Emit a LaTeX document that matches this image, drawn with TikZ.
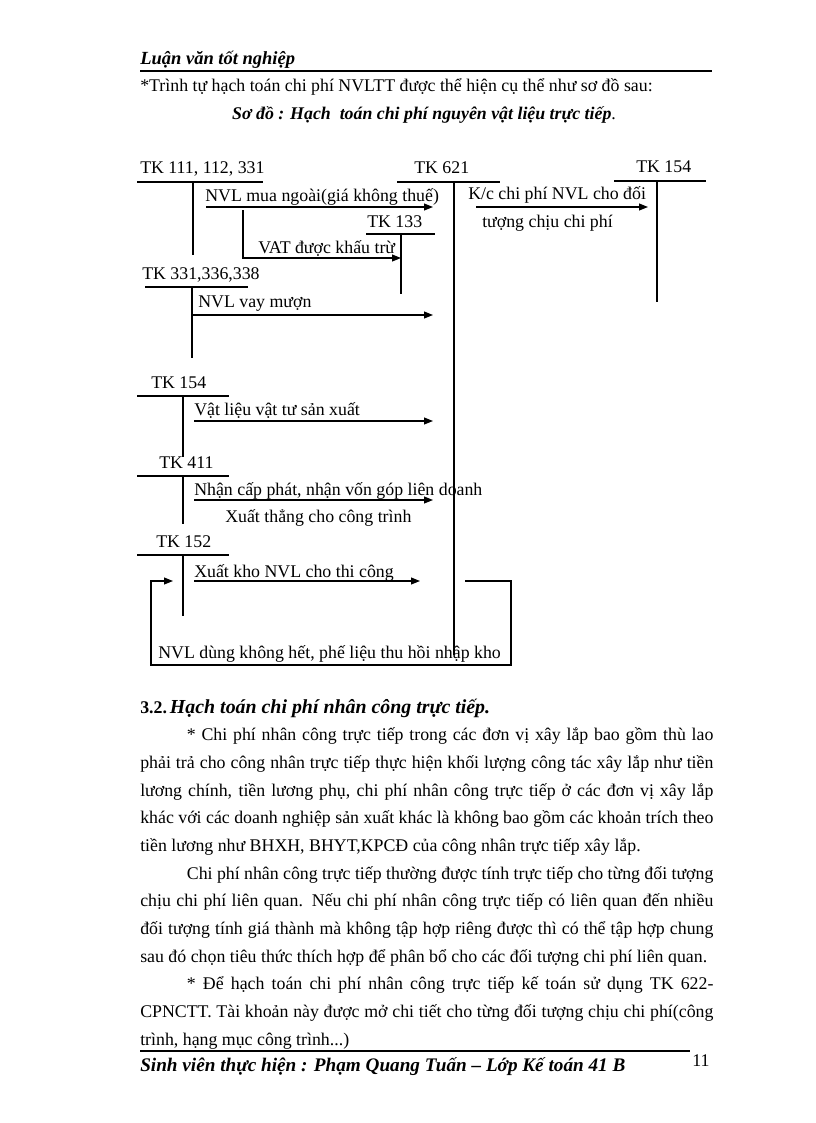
\documentclass[tikz,border=0pt]{standalone}
\usepackage{fontspec}
\setmainfont{Liberation Serif}
\usetikzlibrary{arrows.meta,positioning,calc}

\tikzset{
    lbl/.style={anchor=base west, inner sep=0pt, font=\fontsize{13}{15}\selectfont},
    acct/.style={line width=1pt},
    stem/.style={line width=0.9pt},
    flow/.style={line width=0.9pt, -{Triangle[length=6.5pt,width=5pt]}},
    para/.style={anchor=north west, inner sep=0pt, text width=418pt, align=justify,
        font=\fontsize{13}{20.2}\selectfont},
}

\begin{document}
\begin{tikzpicture}[x=0.7293pt, y=-0.7293pt]
    \useasboundingbox (0,0) rectangle (816,1123);

    % Page header
    \node[lbl, font=\fontsize{13.5}{15}\selectfont\bfseries\itshape] (head) at (140,64) {Luận văn tốt nghiệp};
    \draw[line width=0.9pt] (140,71) -- (712,71);
    \node[lbl] (intro) at (140,91) {*Trình tự hạch toán chi phí NVLTT được thể hiện cụ thể như sơ đồ sau:};
    \node[anchor=base, inner sep=0pt, font=\fontsize{13}{15}\selectfont] (title) at (424,119)
        {\textbf{\textit{Sơ đồ : Hạch \ toán chi phí nguyên vật liệu trực tiếp}}.};

    % TK 111, 112, 331
    \node[lbl] (tk111) at (140,173) {TK 111, 112, 331};
    \draw[acct] (137,182) -- (263,182);
    \draw[stem] (193,182) -- (193,255);

    % TK 621
    \node[lbl] (tk621) at (414,173) {TK 621};
    \draw[acct] (397,182) -- (500,182);
    \draw[stem] (454,182) -- (454,655);

    % TK 154 (right)
    \node[lbl] (tk154r) at (636,172) {TK 154};
    \draw[acct] (614,181) -- (706,181);
    \draw[stem] (657,181) -- (657,302);

    % TK 133
    \node[lbl] (tk133) at (367,227) {TK 133};
    \draw[acct] (366,234) -- (435,234);
    \draw[stem] (401,234) -- (401,294);

    % TK 331,336,338
    \node[lbl] (tk331) at (142,279) {TK 331,336,338};
    \draw[acct] (145,287) -- (248,287);
    \draw[stem] (192,287) -- (192,358);

    % TK 154, 411, 152 (left)
    \foreach \ty/\tb/\tx/\tn in {396/457/151/154, 476/524/159/411, 555/616/156/152} {
        \node[lbl] (tk\tn) at (\tx,\ty-8) {TK \tn};
        \draw[acct] (137,\ty) -- (229,\ty);
        \draw[stem] (183,\ty) -- (183,\tb);
    }

    % Arrow ends
    \coordinate (buyA) at (206,207);  \coordinate (buyB) at (433,207);
    \coordinate (kcA) at (476,207);   \coordinate (kcB) at (648,207);
    \coordinate (vatA) at (243,210);  \coordinate (vatB) at (401,258);
    \coordinate (loanA) at (193,315); \coordinate (loanB) at (433,315);
    \coordinate (matA) at (194,421);  \coordinate (matB) at (433,421);
    \coordinate (capA) at (194,500);  \coordinate (capB) at (433,500);
    \coordinate (outA) at (194,581);  \coordinate (outB) at (420,581);
    \coordinate (retA) at (465,581);  \coordinate (retB) at (173,581);

    % Flows
    \draw[flow] (buyA) -- (buyB);
    \node[lbl] (buy) at (205,201) {NVL mua ngoài(giá không thuế)};
    \draw[flow] (kcA) -- (kcB);
    \node[lbl] (kc) at (468,199) {K/c chi phí NVL cho đối};
    \node[lbl] (kc2) at (482,227) {tượng chịu chi phí};
    \draw[flow] (vatA) |- (vatB);
    \node[lbl] (vat) at (258,253) {VAT được khấu trừ};
    \draw[flow] (loanA) -- (loanB);
    \node[lbl] (loan) at (198,307) {NVL vay mượn};
    \draw[flow] (matA) -- (matB);
    \node[lbl] (mat) at (194,415) {Vật liệu vật tư sản xuất};
    \draw[flow] (capA) -- (capB);
    \node[lbl] (cap) at (194,495) {Nhận cấp phát, nhận vốn góp liên doanh};
    \node[lbl] (cap2) at (225,522) {Xuất thẳng cho công trình};
    \draw[flow] (outA) -- (outB);
    \node[lbl] (out) at (194,577) {Xuất kho NVL cho thi công};

    % Return to stock
    \draw[flow] (retA) -- ++(46,0) -- ++(0,84) -| (151,581) -- (retB);
    \node[lbl] (ret) at (158,658) {NVL dùng không hết, phế liệu thu hồi nhập kho};

    % Section 3.2
    \node[lbl] (sec) at (140,713) {\textbf{3.2.}\,\fontsize{14.5}{17}\selectfont\textbf{\textit{Hạch toán chi phí nhân công trực tiếp.}}};
    \node[para] (p1) at (140,721) {\strut\hspace*{34pt}* Chi phí nhân công trực tiếp trong các đơn vị xây lắp bao gồm thù lao\linebreak
        phải trả cho công nhân trực tiếp thực hiện khối lượng công tác xây lắp như tiền\linebreak
        lương chính, tiền lương phụ, chi phí nhân công trực tiếp ở các đơn vị xây lắp\linebreak
        khác với các doanh nghiệp sản xuất khác là không bao gồm các khoản trích theo\linebreak
        tiền lương như BHXH, BHYT,KPCĐ của công nhân trực tiếp xây lắp.\par
        \hspace*{34pt}Chi phí nhân công trực tiếp thường được tính trực tiếp cho từng đối tượng\linebreak
        chịu chi phí liên quan. Nếu chi phí nhân công trực tiếp có liên quan đến nhiều\linebreak
        đối tượng tính giá thành mà không tập hợp riêng được thì có thể tập hợp chung\linebreak
        sau đó chọn tiêu thức thích hợp để phân bổ cho các đối tượng chi phí liên quan.\par
        \hspace*{34pt}* Để hạch toán chi phí nhân công trực tiếp kế toán sử dụng TK 622-\linebreak
        CPNCTT. Tài khoản này được mở chi tiết cho từng đối tượng chịu chi phí(công\linebreak
        trình, hạng mục công trình...)};

    % Page footer
    \draw[line width=0.9pt] (140,1051) -- (690,1051);
    \node[lbl, font=\fontsize{14}{16}\selectfont\bfseries\itshape] (foot) at (140,1071)
        {Sinh viên thực hiện : Phạm Quang Tuấn -- Lớp Kế toán 41 B};
    \node[lbl] (pg) at (692,1066) {11};
\end{tikzpicture}
\end{document}
